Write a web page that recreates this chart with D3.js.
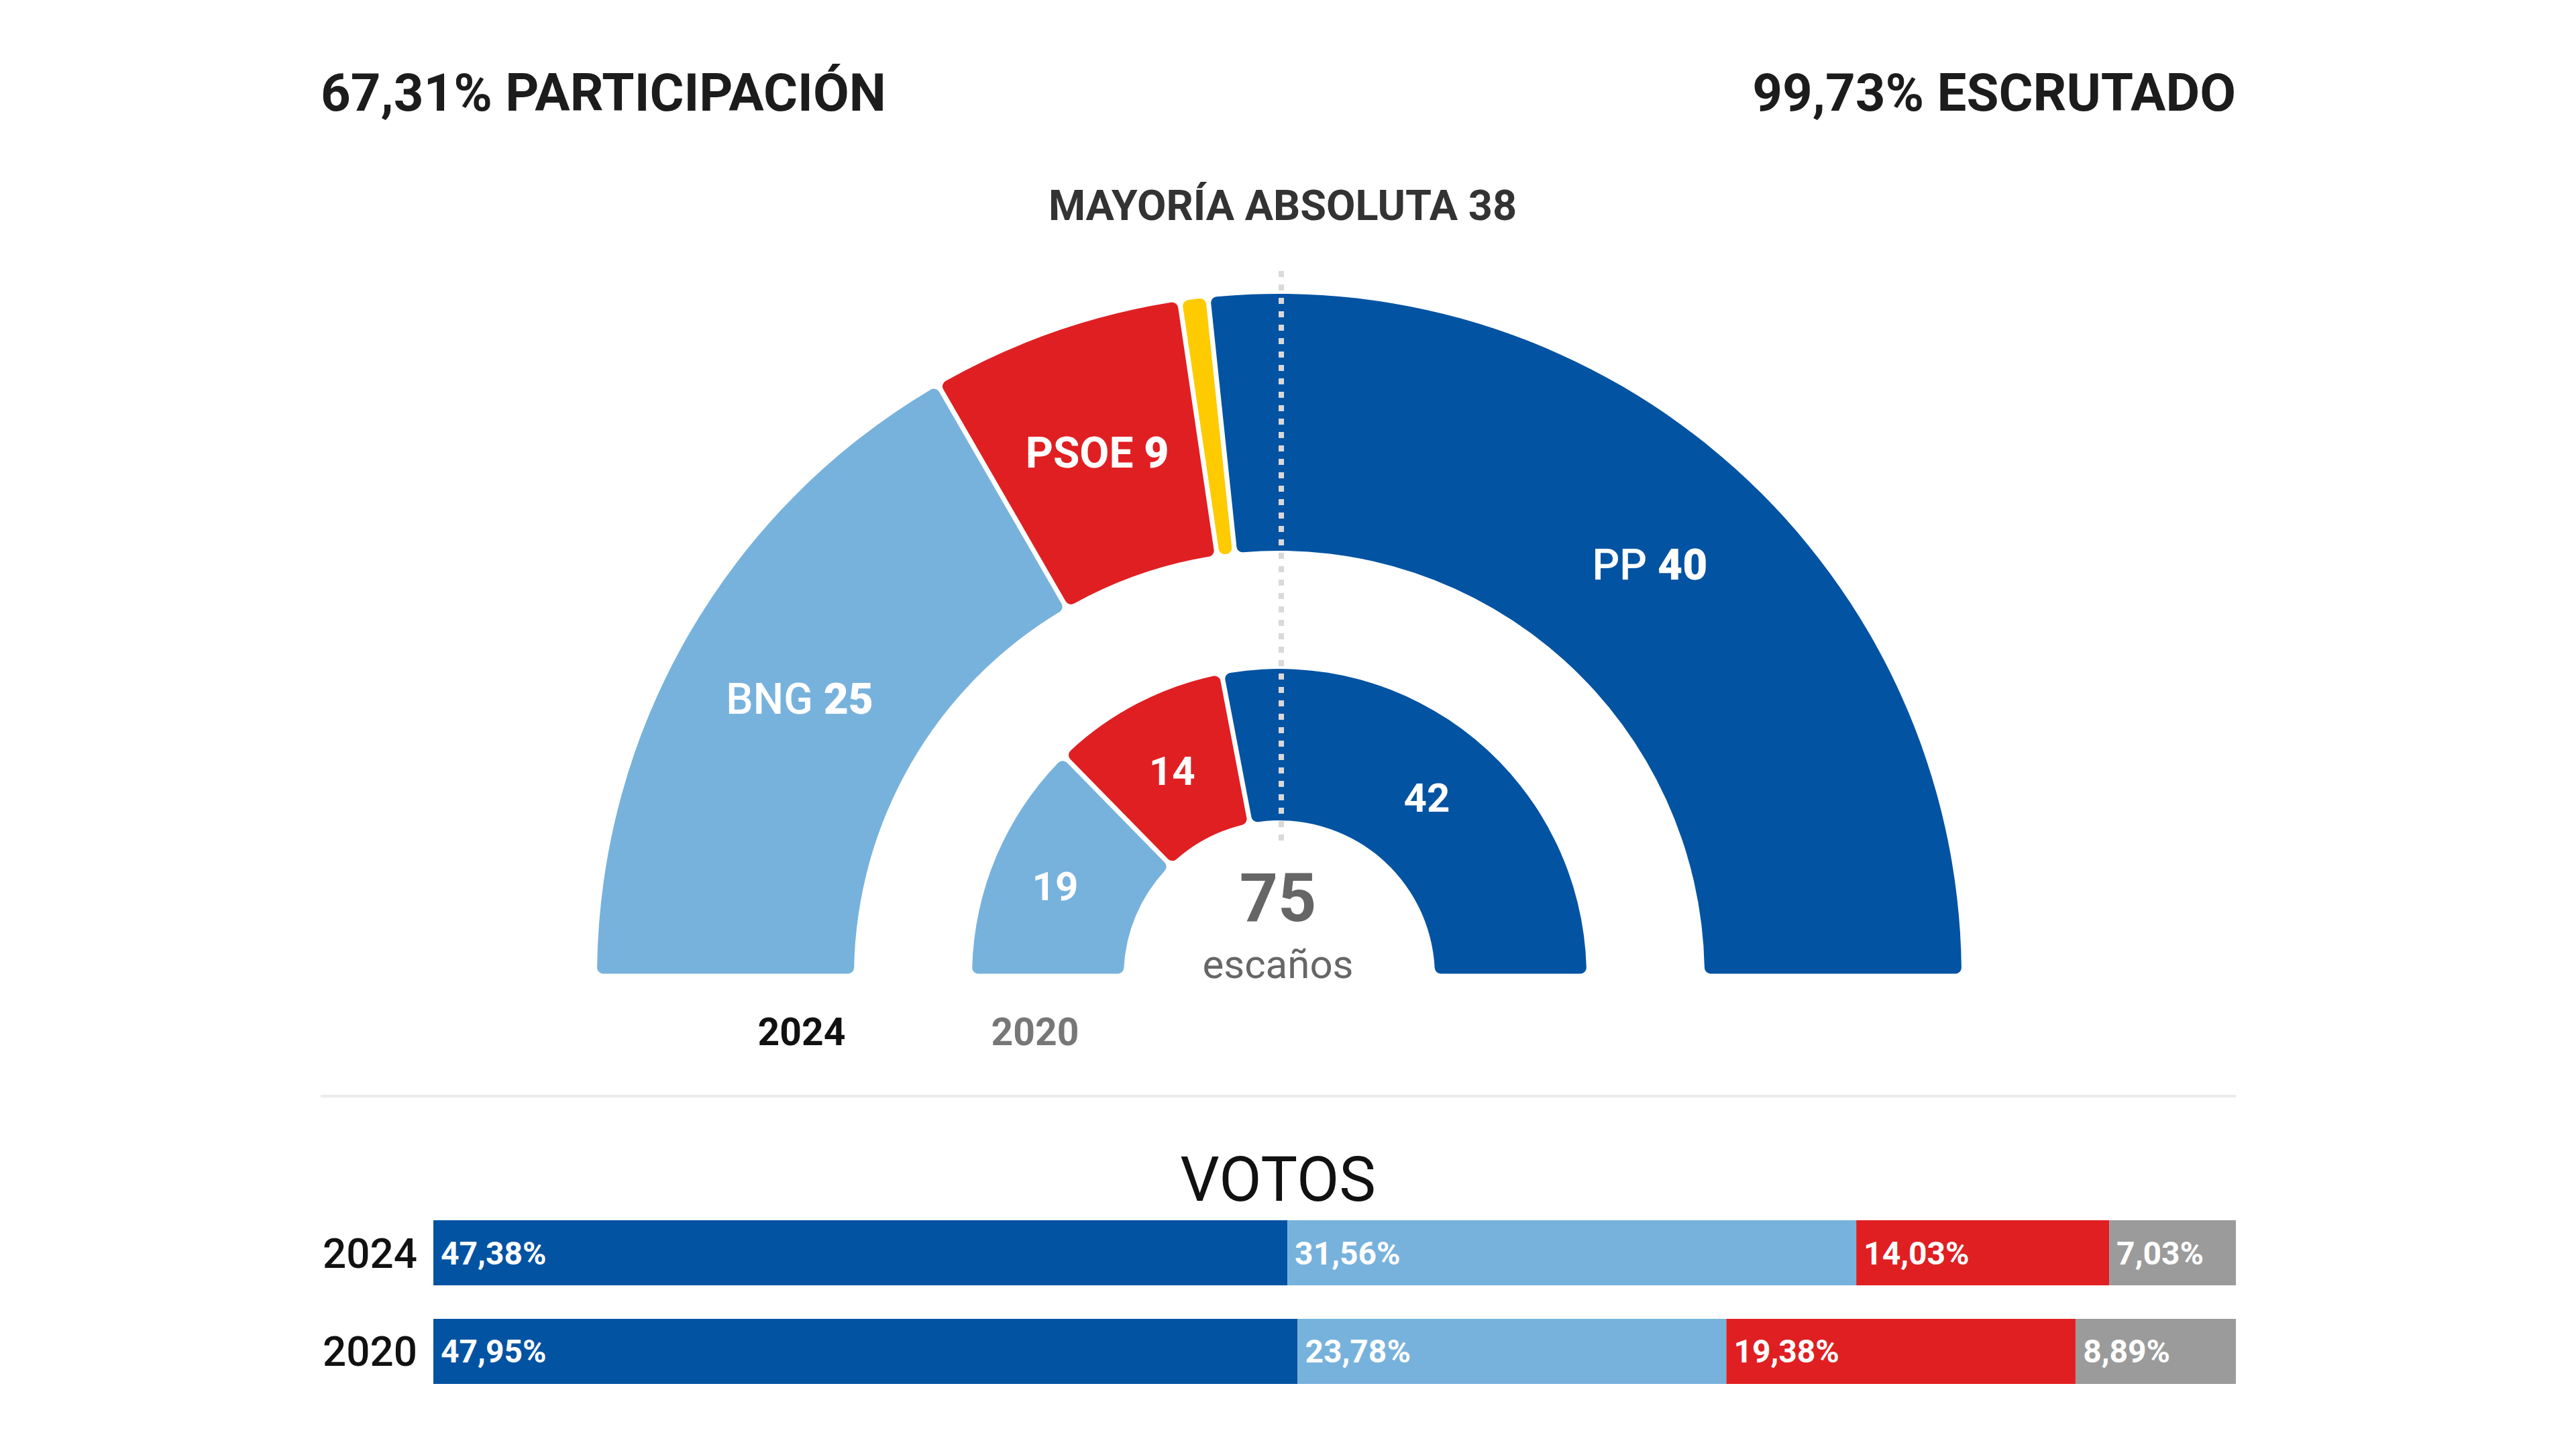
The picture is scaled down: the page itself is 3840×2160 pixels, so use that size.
<!DOCTYPE html>
<html>
<head>
<meta charset="utf-8">
<script src="https://cdn.jsdelivr.net/npm/d3@7"></script>
<style>
  html, body { margin: 0; padding: 0; background: #ffffff; }
  svg { display: block; }
  text { font-family: Roboto, "Liberation Sans", "DejaVu Sans", sans-serif; }
</style>
</head>
<body>
<svg id="chart" width="3840" height="2160"></svg>
<script>
// ---------- DATA ----------
const headerLeft = "67,31% PARTICIPACIÓN";
const headerRight = "99,73% ESCRUTADO";
const majorityLabel = "MAYORÍA ABSOLUTA 38";
const totalSeats = 75;
const totalSeatsLabel = "escaños";

// seats, left to right in the hemicycle
const seatParties2024 = ["BNG", "PSOE", "DO", "PP"];
const seatValues2024 = [25, 9, 1, 40];
const seatLabels2024 = ["BNG", "PSOE", "", "PP"];

const seatParties2020 = ["BNG", "PSOE", "PP"];
const seatValues2020 = [19, 14, 42];

const ringYears = ["2024", "2020"];

// votes
const voteTitle = "VOTOS";
const voteYears = ["2024", "2020"];
const voteParties = ["PP", "BNG", "PSOE", "Otros"];
const votes2024 = [47.38, 31.56, 14.03, 7.03];
const votes2020 = [47.95, 23.78, 19.38, 8.89];
const voteLabels2024 = ["47,38%", "31,56%", "14,03%", "7,03%"];
const voteLabels2020 = ["47,95%", "23,78%", "19,38%", "8,89%"];

// ---------- STYLE ----------
const colors = {
  PP: "#0353a3",
  BNG: "#77b2dc",
  PSOE: "#e01f22",
  DO: "#fdcb00",
  Otros: "#9b9b9b"
};

const svg = d3.select("#chart");
const leftX = 478, rightX = 3333;

// ---------- HEADERS ----------
svg.append("text").attr("x", leftX).attr("y", 165)
  .attr("font-size", 78).attr("font-weight", 700).attr("fill", "#1c1c1c")
  .text(headerLeft);
svg.append("text").attr("x", rightX).attr("y", 165).attr("text-anchor", "end")
  .attr("font-size", 78).attr("font-weight", 700).attr("fill", "#1c1c1c")
  .text(headerRight);

const cx = 1907, cy = 1455;

svg.append("text").attr("x", cx + 5).attr("y", 328).attr("text-anchor", "middle")
  .attr("font-size", 63).attr("font-weight", 700).attr("fill", "#333")
  .text(majorityLabel);

// ---------- HEMICYCLE ----------
const pie = d3.pie().sort(null).value(d => d.v)
  .startAngle(-Math.PI / 2).endAngle(Math.PI / 2);

const g = svg.append("g").attr("transform", `translate(${cx},${cy})`);

function ring(parties, values, labels, r0, r1, cls) {
  const data = parties.map((p, i) => ({ p, v: values[i], label: labels ? labels[i] : null }));
  const arcs = pie(data);
  const arc = d3.arc().innerRadius(r0).outerRadius(r1)
    .cornerRadius(9).padAngle(0.0088).padRadius(820);
  const lab = d3.arc().innerRadius(r0).outerRadius(r1);
  const gg = g.append("g").attr("class", cls);
  gg.selectAll("path").data(arcs).join("path")
    .attr("d", arc).attr("fill", d => colors[d.data.p]);
  return { arcs, lab, gg };
}

const outer = ring(seatParties2024, seatValues2024, seatLabels2024, 634, 1017, "r2024");
const inner = ring(seatParties2020, seatValues2020, null, 232, 458, "r2020");

// outer labels
outer.arcs.forEach(a => {
  if (!a.data.label) return;
  const [x, y] = outer.lab.centroid(a);
  const t = outer.gg.append("text").attr("x", x).attr("y", y + 22)
    .attr("text-anchor", "middle").attr("font-size", 64).attr("fill", "#fff");
  t.append("tspan").attr("font-weight", a.data.p === "PSOE" ? 700 : 500).text(a.data.label + " ");
  t.append("tspan").attr("font-weight", 900).text(a.data.v);
});
// inner labels
inner.arcs.forEach(a => {
  const [x, y] = inner.lab.centroid(a);
  inner.gg.append("text").attr("x", x - (a.data.p === "BNG" ? 16 : 0)).attr("y", y + 21)
    .attr("text-anchor", "middle").attr("font-size", 60).attr("font-weight", 700)
    .attr("fill", "#fff").text(a.data.v);
});

// majority line
svg.append("line").attr("x1", cx + 3).attr("x2", cx + 3).attr("y1", 404).attr("y2", 1262)
  .attr("stroke", "#d9d9d9").attr("stroke-width", 8).attr("stroke-dasharray", "9 11");

// centre
svg.append("text").attr("x", cx - 2).attr("y", 1373).attr("text-anchor", "middle")
  .attr("font-size", 100).attr("font-weight", 700).attr("fill", "#666").text(totalSeats);
svg.append("text").attr("x", cx - 2).attr("y", 1458).attr("text-anchor", "middle")
  .attr("font-size", 60).attr("font-weight", 400).attr("fill", "#666").text(totalSeatsLabel);

// ring year labels
svg.append("text").attr("x", 1195).attr("y", 1558).attr("text-anchor", "middle")
  .attr("font-size", 57).attr("font-weight", 700).attr("fill", "#111").text(ringYears[0]);
svg.append("text").attr("x", 1543).attr("y", 1558).attr("text-anchor", "middle")
  .attr("font-size", 57).attr("font-weight", 700).attr("fill", "#777").text(ringYears[1]);

// separator
svg.append("line").attr("x1", leftX).attr("x2", rightX).attr("y1", 1634).attr("y2", 1634)
  .attr("stroke", "#ececec").attr("stroke-width", 4);

// ---------- VOTES ----------
svg.append("text").attr("x", cx - 2).attr("y", 1790).attr("text-anchor", "middle")
  .attr("font-size", 92).attr("font-weight", 400).attr("fill", "#111").text(voteTitle);

const x = d3.scaleLinear().domain([0, 100]).range([646, 3333]);
const y = d3.scaleBand().domain(voteYears).range([1819, 2063]).paddingInner(0.34).paddingOuter(0);

const voteRows = [
  { year: voteYears[0], vals: votes2024, labels: voteLabels2024 },
  { year: voteYears[1], vals: votes2020, labels: voteLabels2020 }
];

voteRows.forEach(row => {
  let acc = 0;
  const segs = row.vals.map((v, i) => {
    const s = { p: voteParties[i], x0: acc, x1: acc + v, label: row.labels[i] };
    acc += v;
    return s;
  });
  const rg = svg.append("g");
  rg.selectAll("rect").data(segs).join("rect")
    .attr("x", d => x(d.x0)).attr("width", d => x(d.x1) - x(d.x0))
    .attr("y", y(row.year)).attr("height", y.bandwidth())
    .attr("fill", d => colors[d.p]);
  rg.selectAll("text.lbl").data(segs).join("text").attr("class", "lbl")
    .attr("x", d => x(d.x0) + 11).attr("y", y(row.year) + y.bandwidth() / 2 + 17)
    .attr("font-size", 48).attr("font-weight", 700).attr("fill", "#fff")
    .text(d => d.label);
  svg.append("text").attr("x", 622).attr("y", y(row.year) + y.bandwidth() / 2 + 22)
    .attr("text-anchor", "end").attr("font-size", 62).attr("font-weight", 500).attr("fill", "#111")
    .text(row.year);
});
</script>
</body>
</html>
